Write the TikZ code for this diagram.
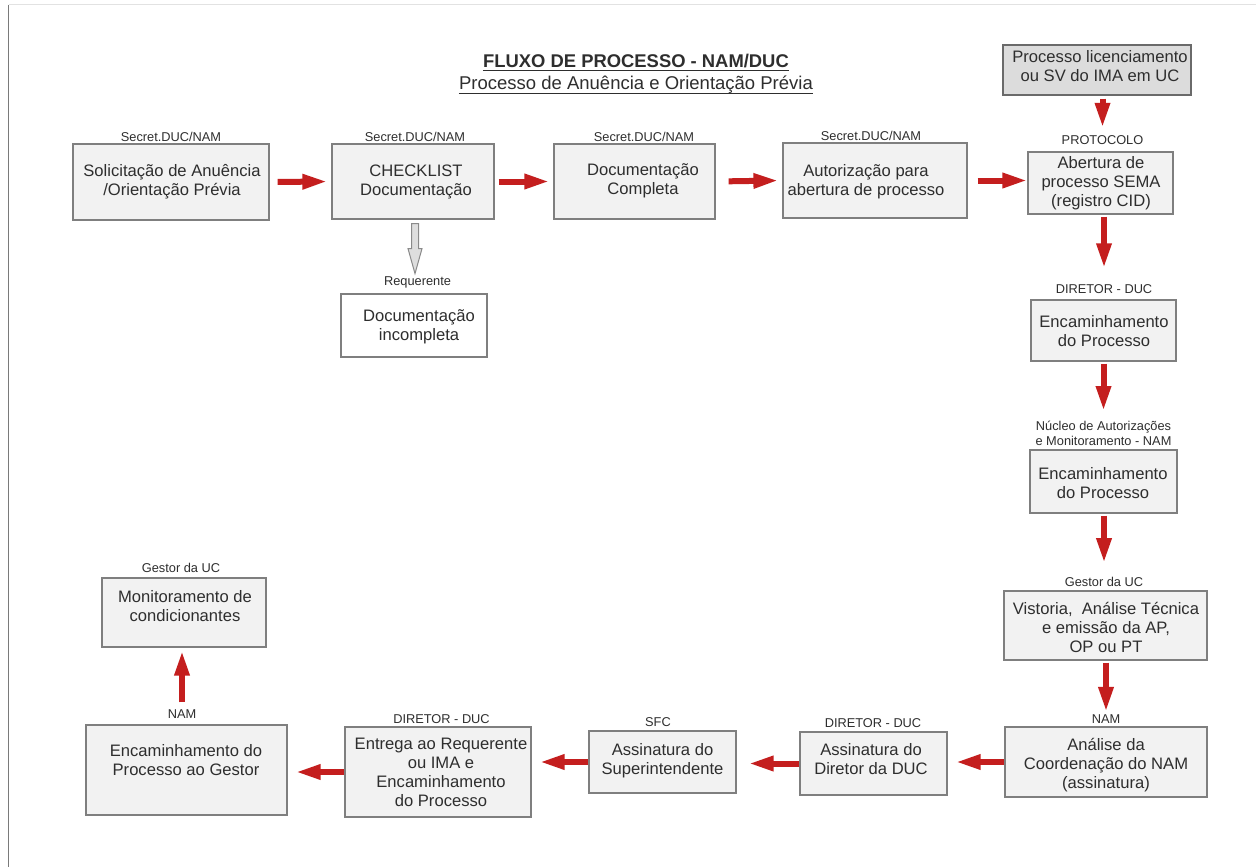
\documentclass[tikz,border=0pt]{standalone}
\usepackage{fontspec}
\setmainfont{Liberation Sans}
\usetikzlibrary{arrows.meta,calc}
\definecolor{boxfill}{HTML}{F2F2F2}
\definecolor{boxline}{HTML}{7F7F7F}
\definecolor{licfill}{HTML}{DCDCDC}
\definecolor{licline}{HTML}{6A6A6A}
\definecolor{txtcol}{HTML}{2E2E2E}
\definecolor{arrred}{HTML}{C41E1E}
\definecolor{grayfill}{HTML}{DEDEDE}
\definecolor{grayline}{HTML}{8A8A8A}
\definecolor{frameleft}{HTML}{7A7A7A}
\definecolor{frametop}{HTML}{E2E2E2}
\tikzset{
  pbox/.style={draw=boxline, fill=boxfill, line width=1.2pt, rectangle, inner sep=0pt},
  btxt/.style={align=center, inner sep=0pt, text=txtcol, font=\fontsize{16.6}{19}\selectfont},
  lbl/.style={align=center, inner sep=0pt, text=txtcol, font=\fontsize{12.8}{15}\selectfont},
  rarrow/.style={draw=arrred, line width=6pt, -{Triangle[length=25pt,width=14pt]}},
  garrow/.style={draw=grayline, fill=grayfill, line width=1pt, line join=miter}
}
\newcommand\mybox[9][]{%
  \node[pbox,#1,minimum width={#5-#3},minimum height={#6-#4}] (#2) at ({(#3+#5)/2},{(#4+#6)/2}) {};
  \node[btxt] (#2t) at (#7,#8) {#9};
}
\begin{document}
\begin{tikzpicture}[x=1pt,y=-1pt]
\useasboundingbox (0,0) rectangle (1256,867);
\fill[white] (0,0) rectangle (1256,867);
% frame
\draw[frametop, line width=1pt] (8.5,5) -- (1256,5);
\draw[frameleft, line width=1.5pt] (8.5,5) -- (8.5,867);
% title
\node[anchor=base, inner sep=0pt, text=txtcol, font=\fontsize{18.4}{22}\selectfont\bfseries] (t1) at (636,67) {FLUXO DE PROCESSO - NAM/DUC};
\node[anchor=base, inner sep=0pt, text=txtcol, font=\fontsize{18.5}{22}\selectfont] (t2) at (636,89) {Processo de Anuência e Orientação Prévia};
\draw[txtcol, line width=1.3pt] ([yshift=-3.8pt]t1.base west) -- ([yshift=-3.8pt]t1.base east);
\draw[txtcol, line width=1pt] ([yshift=-4.5pt]t2.base west) -- ([yshift=-4.5pt]t2.base east);

% top row
\mybox{b1}{73}{144}{269}{220}{172}{182}{Solicitação de Anuência\\/Orientação Prévia}
\node[lbl] (l1) at (171,137) {Secret.DUC/NAM};
\mybox{b2}{332}{144}{494}{219}{416}{182}{CHECKLIST\\Documentação}
\node[lbl] (l2) at (415,137) {Secret.DUC/NAM};
\mybox{b3}{554}{144}{715}{219}{643}{181}{Documentação\\Completa}
\node[lbl] (l3) at (644,137) {Secret.DUC/NAM};
\mybox{b4}{783}{143}{967}{218}{866}{182}{Autorização para\\abertura de processo}
\node[lbl] (l4) at (871,136) {Secret.DUC/NAM};
\mybox{b5}{1028}{152}{1173}{214}{1101}{183}{Abertura de\\processo SEMA\\(registro CID)}
\node[lbl] (l5) at (1102.5,140) {PROTOCOLO};
\mybox[fill=licfill,draw=licline]{lic}{1003}{45}{1191}{95}{1100}{66.5}{Processo licenciamento\\ou SV do IMA em UC}

% incomplete documentation
\mybox[fill=white]{inc}{341}{294}{487}{357}{419}{326.5}{Documentação\\incompleta}
\node[lbl] (linc) at (417.5,282) {Requerente};

% right column
\mybox{b6}{1031}{300}{1176}{361}{1104}{331}{Encaminhamento\\do Processo}
\node[lbl] (l6) at (1104,289) {DIRETOR - DUC};
\mybox{b7}{1030}{450}{1177}{513}{1103}{483}{Encaminhamento\\do Processo}
\node[lbl] (l7) at (1103.5,433.5) {Núcleo de Autorizações\\e Monitoramento - NAM};
\mybox{b8}{1004}{591}{1207}{660}{1106}{627}{Vistoria,\ \ Análise Técnica\\e emissão da AP,\\OP ou PT}
\node[lbl] (l8) at (1104,582) {Gestor da UC};
\mybox{b9}{1005}{727}{1207}{797}{1106}{765}{Análise da\\Coordenação do NAM\\(assinatura)}
\node[lbl] (l9) at (1106,719) {NAM};

% bottom row
\mybox{b10}{800}{732}{947}{795}{871}{759}{Assinatura do\\Diretor da DUC}
\node[lbl] (l10) at (873,723) {DIRETOR - DUC};
\mybox{b11}{589}{731}{736}{793}{662.5}{761}{Assinatura do\\Superintendente}
\node[lbl] (l11) at (658,722) {SFC};
\mybox{b12}{345}{727}{531}{817}{441}{772}{Entrega ao Requerente\\ou IMA e\\Encaminhamento\\do Processo}
\node[lbl] (l12) at (441.5,719) {DIRETOR - DUC};
\mybox{b13}{86}{725}{287}{815}{186}{760}{Encaminhamento do\\Processo ao Gestor}
\node[lbl] (l13) at (182,714) {NAM};
\mybox{b14}{102}{578}{266}{647}{185}{606.5}{Monitoramento de\\condicionantes}
\node[lbl] (l14) at (181,568) {Gestor da UC};

% top row arrows
\draw[rarrow, shorten <=8pt, shorten >=4pt] (b1.east) -- (b2.west);
\draw[rarrow, shorten <=4pt, shorten >=4pt] (b2.east) -- (b3.west);
\draw[rarrow, shorten <=13pt, shorten >=4pt] (b3.east) -- (b4.west);
\draw[rarrow, shorten <=10pt, shorten >=0pt] (b4.east) -- (b4.east -| b5.west);

% vertical arrows
\draw[rarrow, shorten <=3pt, shorten >=7.5pt] (l5.north |- lic.south) -- (l5.north);
\draw[rarrow, shorten <=2pt, shorten >=16pt] (l6.north |- b5.south) -- (l6.north);
\draw[rarrow, shorten <=2pt, shorten >=10pt] (l7.north |- b6.south) -- (l7.north);
\draw[rarrow, shorten <=2pt, shorten >=14pt] (l8.north |- b7.south) -- (l8.north);
\draw[rarrow, shorten <=2pt, shorten >=2.5pt] (l9.north |- b8.south) -- (l9.north);

% bottom row arrows
\draw[rarrow, shorten <=0pt, shorten >=8pt] (b9.west) -- (b9.west -| b10.east);
\draw[rarrow, shorten <=0pt, shorten >=12pt] (b10.west) -- (b10.west -| b11.east);
\draw[rarrow, shorten <=0pt, shorten >=8pt] (b11.west) -- (b11.west -| b12.east);
\draw[rarrow, shorten <=0pt, shorten >=8pt] (b12.west) -- (b12.west -| b13.east);
\draw[rarrow, shorten <=7pt, shorten >=3pt] (l13.north) -- (l13.north |- b14.south);

% gray hollow arrow to incomplete documentation
\draw[garrow] ([shift={(-1.5,4)}]b2.south) -- ++(7,0) -- ++(0,25) -- ++(3.5,0) -- ++(-7,25) -- ++(-7,-25) -- ++(3.5,0) -- cycle;
\end{tikzpicture}
\end{document}
